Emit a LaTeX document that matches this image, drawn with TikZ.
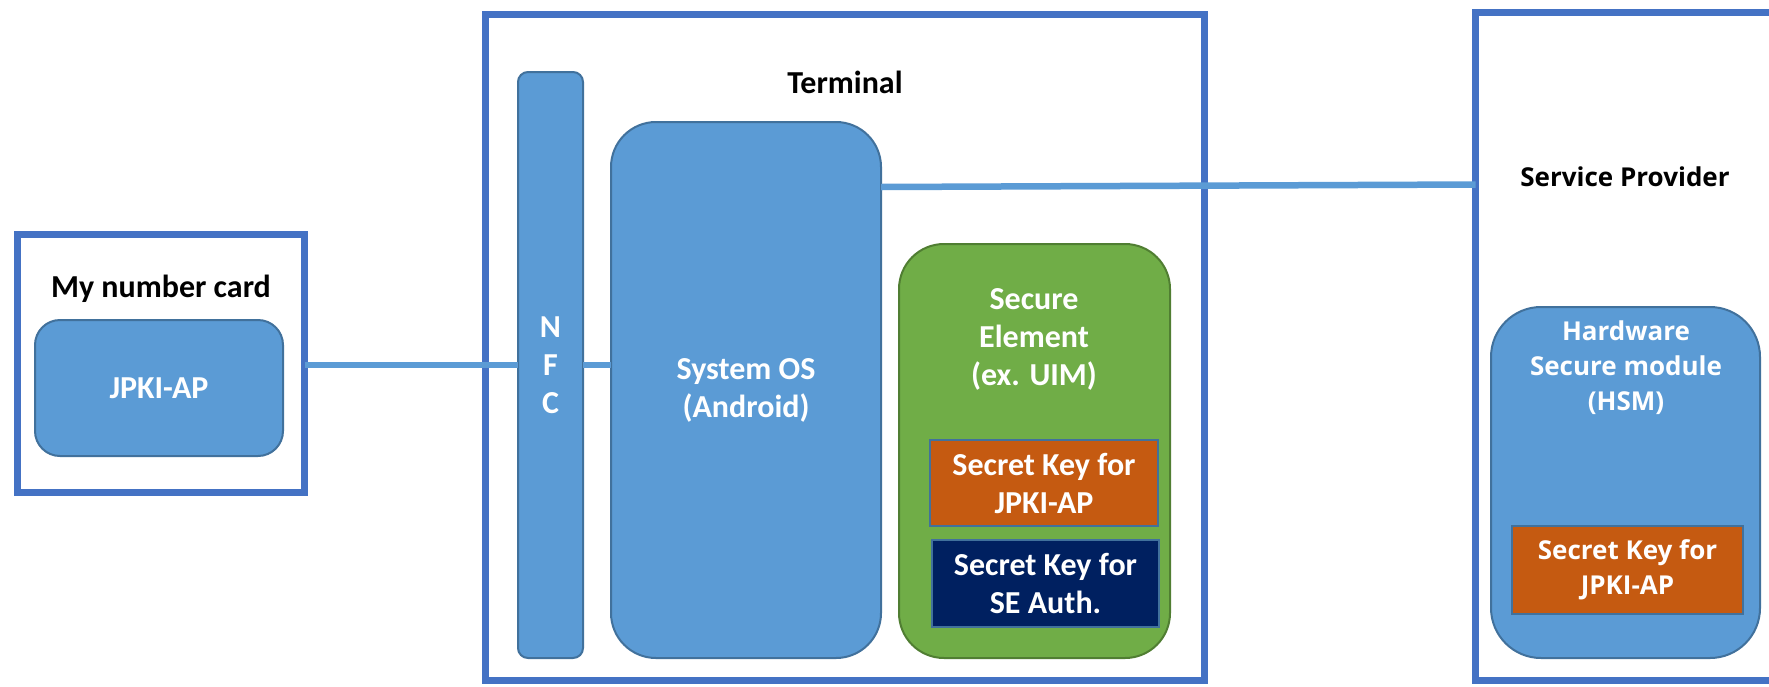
\documentclass[tikz,border=0pt]{standalone}
\usepackage{fontspec}
\setmainfont{Carlito}
\newfontfamily\spfont{Open Sans}
\definecolor{frameblue}{HTML}{4472C4}
\definecolor{partblue}{HTML}{5B9BD5}
\definecolor{edgeblue}{HTML}{41719C}
\definecolor{segreen}{HTML}{70AD47}
\definecolor{seedge}{HTML}{507E32}
\definecolor{keyorange}{HTML}{C55A11}
\definecolor{keynavy}{HTML}{002060}
\begin{document}
\begin{tikzpicture}[x=1pt,y=-1pt,
  every node/.style={outer sep=0pt, inner sep=0pt},
  frame/.style={draw=frameblue, line width=7pt, fill=white, rectangle},
  part/.style={draw=edgeblue, line width=2pt, fill=partblue, rectangle,
    text=white, align=center, font=\fontsize{32}{38}\selectfont\bfseries},
  separt/.style={part, draw=seedge, fill=segreen},
  keybox/.style={part, fill=keyorange},
  navybox/.style={part, fill=keynavy},
  title/.style={text=black, align=center, font=\fontsize{32}{38}\selectfont\bfseries},
  whitetext/.style={text=white, align=center, font=\fontsize{32}{38}\selectfont\bfseries},
  spfontstyle/.style={font=\spfont\fontsize{26}{35}\selectfont\bfseries},
  sptitle/.style={text=black, align=center, spfontstyle},
  spwhite/.style={text=white, align=center, spfontstyle},
  link/.style={draw=partblue, line width=6.5pt}]
\useasboundingbox (0,0) rectangle (1769,686);
\clip (0,0) rectangle (1769,686);

% outer frames
\node[frame, minimum width=287.5pt, minimum height=258pt] (card) at (160.75,363.5) {};
\node[frame, minimum width=719pt, minimum height=666pt] (term) at (845,347.5) {};
\node[frame, minimum width=324.5pt, minimum height=668pt] (sp) at (1637.75,346.5) {};

% My number card
\node[title] (cardtitle) at (161,289) {My number card};
\node[part, rounded corners=25pt, minimum width=248pt, minimum height=136pt] (jpki) at (159,388) {JPKI-AP};

% Terminal
\node[title] (termtitle) at (845,82) {Terminal};
\node[part, rounded corners=10pt, minimum width=65pt, minimum height=586pt] (nfc) at (550.5,365) {N\\F\\C};
\node[part, rounded corners=45pt, minimum width=270pt, minimum height=536pt] (sysos) at (746,390) {System OS\\(Android)};
\node[separt, rounded corners=45pt, minimum width=271pt, minimum height=414pt] (se) at (1034.5,451) {};
\node[whitetext] (setitle) at (1034,339) {Secure\\Element\\(ex. UIM)};
\node[keybox, minimum width=228pt, minimum height=86pt] (sekey) at (1044,483) {Secret Key for\\JPKI-AP};
\node[navybox, minimum width=227pt, minimum height=87pt] (seauth) at (1045.5,583.5) {Secret Key for\\SE Auth.};

% Service Provider
\node[sptitle] (sptitle) at (1625,177) {Service Provider};
\node[part, rounded corners=50pt, minimum width=269pt, minimum height=351pt] (hsm) at (1625.5,482.5) {};
\node[spwhite] (hsmtitle) at (1626,368) {Hardware\\Secure module\\(HSM)};
\node[keybox, spfontstyle, minimum width=231pt, minimum height=88pt] (hsmkey) at (1627.5,570) {Secret Key for\\JPKI-AP};

% connections
\draw[link] (card.east |- nfc.west) -- (nfc.west);
\draw[link] (nfc.east) -- (nfc.east -| sysos.west);
\draw[link] ([yshift=-65pt]sysos.north east) -- ([yshift=-172pt]sp.north west);
\end{tikzpicture}
\end{document}
